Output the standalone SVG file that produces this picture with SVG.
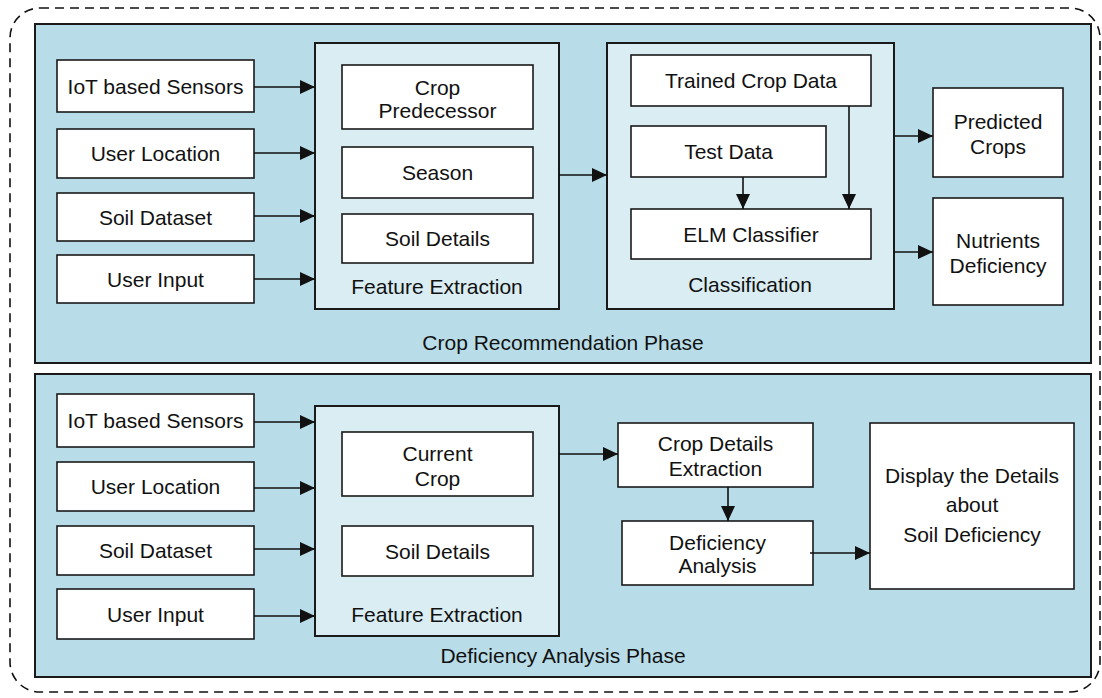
<svg xmlns="http://www.w3.org/2000/svg" width="1102" height="698" viewBox="0 0 1102 698">
  <style>
    .panel { fill: #b8dde8; stroke: #1a1a1a; stroke-width: 2; }
    .group { fill: #daedf3; stroke: #1a1a1a; stroke-width: 2; }
    .box { fill: #ffffff; stroke: #1a1a1a; stroke-width: 1.6; }
    .outer { fill: none; stroke: #111; stroke-width: 1.6; stroke-dasharray: 9 6; }
    text { font-family: "Liberation Sans", Arial, sans-serif; font-size: 21px; fill: #111; text-anchor: middle; }
    .conn line { stroke: #111; stroke-width: 1.6; }
  </style>
  <defs>
    <marker id="arrow" viewBox="0 0 15 14" refX="15" refY="7" markerWidth="15" markerHeight="14" markerUnits="userSpaceOnUse" orient="auto">
      <path d="M0,0 L15,7 L0,14 z" fill="#111"/>
    </marker>
  </defs>

  <rect class="outer" x="10" y="8" width="1090" height="684" rx="30"/>

  <!-- Crop recommendation phase -->
  <g id="phase-recommendation">
    <rect class="panel" x="35" y="24" width="1056" height="339"/>
    <text x="563" y="350">Crop Recommendation Phase</text>
  </g>
  <g id="r-iot"><rect class="box" x="57" y="60" width="197" height="52"/><text x="155.5" y="93.5">IoT based Sensors</text></g>
  <g id="r-location"><rect class="box" x="57" y="129" width="197" height="49"/><text x="155.5" y="161">User Location</text></g>
  <g id="r-soil"><rect class="box" x="57" y="193" width="197" height="48"/><text x="155.5" y="224.5">Soil Dataset</text></g>
  <g id="r-input"><rect class="box" x="57" y="255" width="197" height="48"/><text x="155.5" y="286.5">User Input</text></g>

  <g id="r-feature">
    <rect class="group" x="315" y="43" width="244" height="266"/>
    <text x="437" y="293.5">Feature Extraction</text>
  </g>
  <g id="r-predecessor"><rect class="box" x="342" y="65" width="191" height="64"/><text x="437.5" y="94.5">Crop</text><text x="437.5" y="117.5">Predecessor</text></g>
  <g id="r-season"><rect class="box" x="342" y="147" width="191" height="51"/><text x="437.5" y="180">Season</text></g>
  <g id="r-soildetails"><rect class="box" x="342" y="214" width="191" height="49"/><text x="437.5" y="246">Soil Details</text></g>

  <g id="r-classification">
    <rect class="group" x="607" y="43" width="287" height="266"/>
    <text x="750" y="291.5">Classification</text>
  </g>
  <g id="r-trained"><rect class="box" x="631" y="55" width="240" height="51"/><text x="751" y="88">Trained Crop Data</text></g>
  <g id="r-test"><rect class="box" x="631" y="126" width="195" height="51"/><text x="728.5" y="159">Test Data</text></g>
  <g id="r-elm"><rect class="box" x="631" y="209" width="240" height="50"/><text x="751" y="241.5">ELM Classifier</text></g>

  <g id="r-predicted"><rect class="box" x="933" y="88" width="130" height="89"/><text x="998" y="128.5">Predicted</text><text x="998" y="153.5">Crops</text></g>
  <g id="r-nutrients"><rect class="box" x="933" y="198" width="130" height="107"/><text x="998" y="247.5">Nutrients</text><text x="998" y="272.5">Deficiency</text></g>

  <!-- Deficiency analysis phase -->
  <g id="phase-deficiency">
    <rect class="panel" x="35" y="374" width="1056" height="303"/>
    <text x="563" y="663">Deficiency Analysis Phase</text>
  </g>
  <g id="d-iot"><rect class="box" x="57" y="394" width="197" height="53"/><text x="155.5" y="428">IoT based Sensors</text></g>
  <g id="d-location"><rect class="box" x="57" y="462" width="197" height="49"/><text x="155.5" y="494">User Location</text></g>
  <g id="d-soil"><rect class="box" x="57" y="526" width="197" height="49"/><text x="155.5" y="558">Soil Dataset</text></g>
  <g id="d-input"><rect class="box" x="57" y="589" width="197" height="50"/><text x="155.5" y="621.5">User Input</text></g>

  <g id="d-feature">
    <rect class="group" x="315" y="406" width="244" height="230"/>
    <text x="437" y="621.5">Feature Extraction</text>
  </g>
  <g id="d-current"><rect class="box" x="342" y="432" width="191" height="64"/><text x="437.5" y="460.5">Current</text><text x="437.5" y="485.5">Crop</text></g>
  <g id="d-soildetails"><rect class="box" x="342" y="526" width="191" height="50"/><text x="437.5" y="558.5">Soil Details</text></g>

  <g id="d-cropdetails"><rect class="box" x="618" y="423" width="195" height="64"/><text x="715.5" y="450.5">Crop Details</text><text x="715.5" y="475.5">Extraction</text></g>
  <g id="d-analysis"><rect class="box" x="622" y="521" width="191" height="64"/><text x="717.5" y="549.5">Deficiency</text><text x="717.5" y="572.5">Analysis</text></g>
  <g id="d-display"><rect class="box" x="870" y="423" width="204" height="166"/><text x="972" y="482.5">Display the Details</text><text x="972" y="512">about</text><text x="972" y="541.5">Soil Deficiency</text></g>

  <g class="conn" id="connectors">
    <line x1="254" y1="87" x2="315" y2="87" marker-end="url(#arrow)"/>
    <line x1="254" y1="153" x2="315" y2="153" marker-end="url(#arrow)"/>
    <line x1="254" y1="216" x2="315" y2="216" marker-end="url(#arrow)"/>
    <line x1="254" y1="279" x2="315" y2="279" marker-end="url(#arrow)"/>
    <line x1="559" y1="175" x2="607" y2="175" marker-end="url(#arrow)"/>
    <line x1="743" y1="177" x2="743" y2="209" marker-end="url(#arrow)"/>
    <line x1="849" y1="106" x2="849" y2="209" marker-end="url(#arrow)"/>
    <line x1="894" y1="136" x2="933" y2="136" marker-end="url(#arrow)"/>
    <line x1="894" y1="252" x2="933" y2="252" marker-end="url(#arrow)"/>

    <line x1="254" y1="422" x2="315" y2="422" marker-end="url(#arrow)"/>
    <line x1="254" y1="488" x2="315" y2="488" marker-end="url(#arrow)"/>
    <line x1="254" y1="549" x2="315" y2="549" marker-end="url(#arrow)"/>
    <line x1="254" y1="616" x2="315" y2="616" marker-end="url(#arrow)"/>
    <line x1="559" y1="454" x2="618" y2="454" marker-end="url(#arrow)"/>
    <line x1="728" y1="487" x2="728" y2="521" marker-end="url(#arrow)"/>
    <line x1="810" y1="553" x2="870" y2="553" marker-end="url(#arrow)"/>
  </g>
</svg>
